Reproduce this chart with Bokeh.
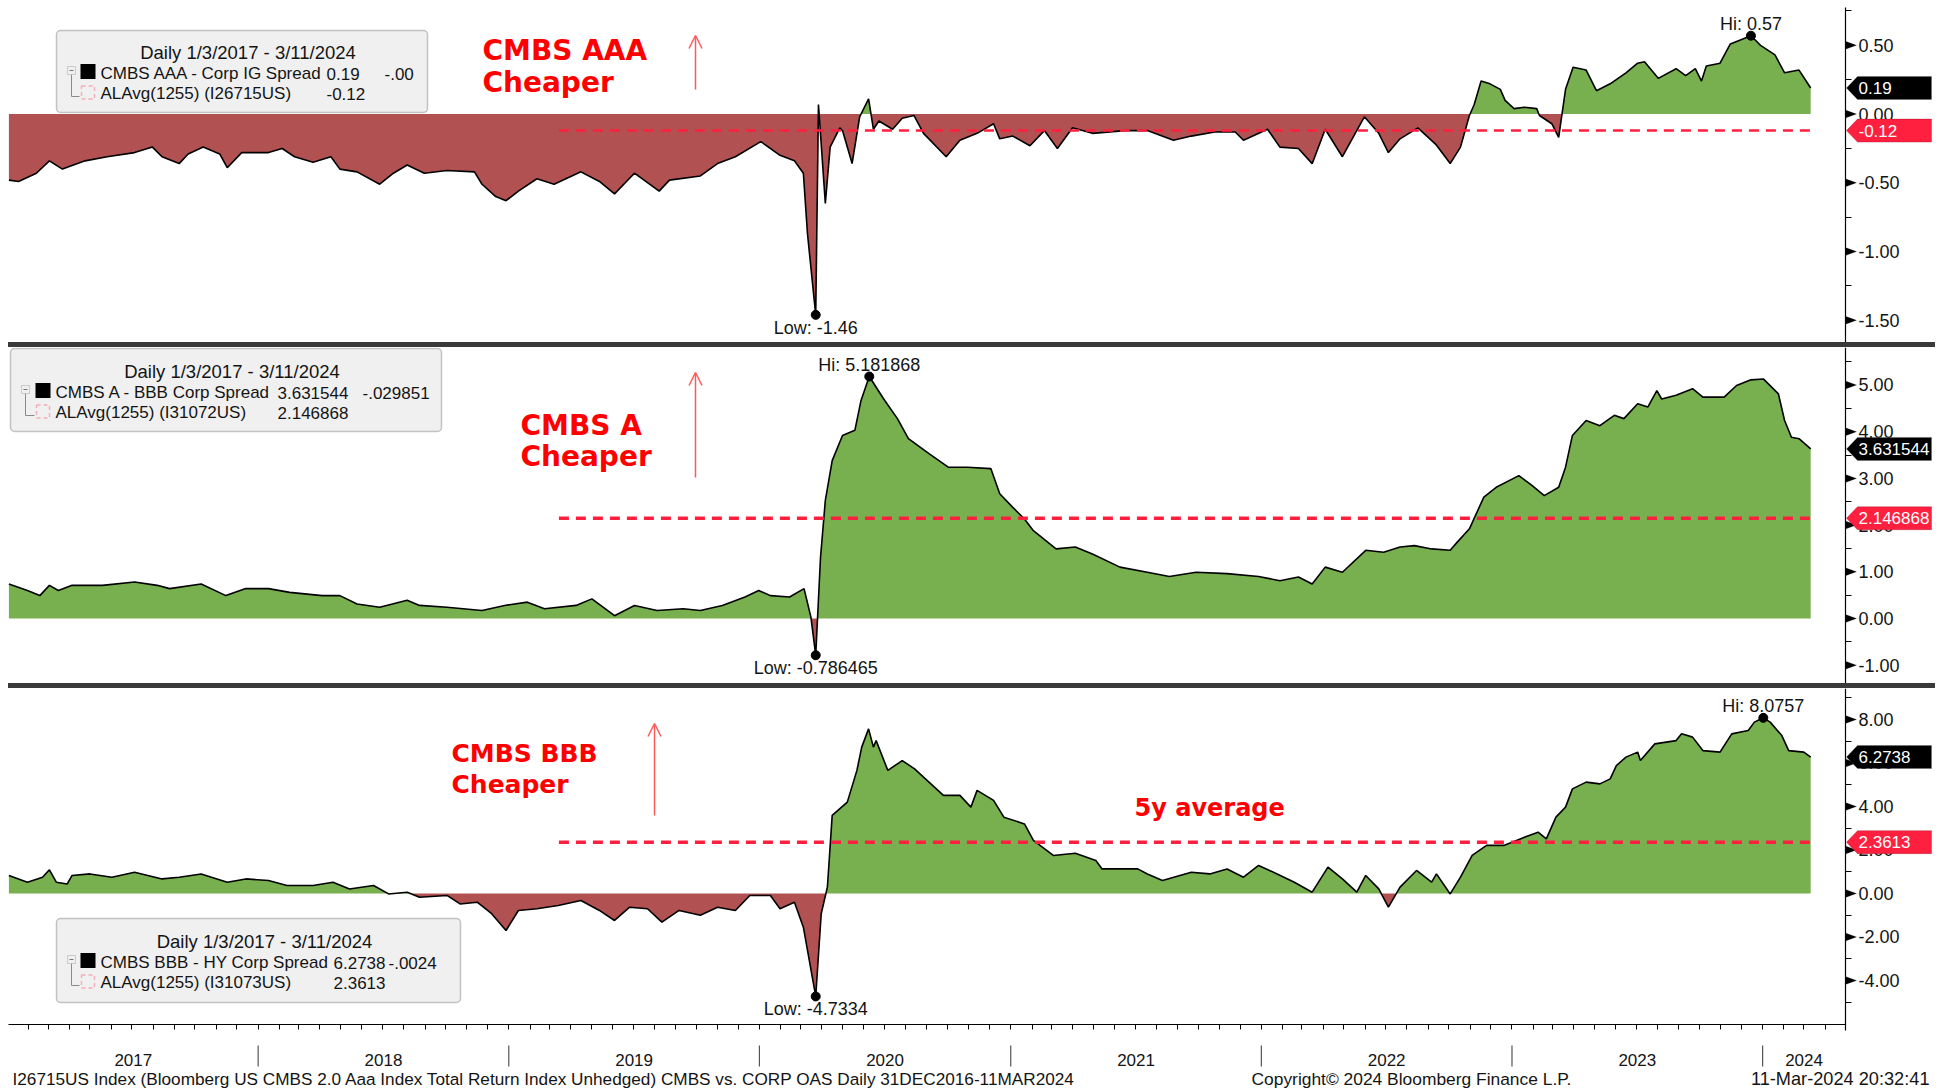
import numpy as np
import pandas as pd
from bokeh.plotting import figure
from bokeh.models import (Range1d, FixedTicker, NumeralTickFormatter, Label, BoxAnnotation,
                          PolyAnnotation, Arrow, OpenHead, Div, LinearAxis, DatetimeAxis,
                          DatetimeTickFormatter)
from bokeh.layouts import column
from bokeh.embed import file_html
from bokeh.resources import INLINE

# ---------------- data ----------------
aaa_dates = [
    "2017-01-03","2017-01-17","2017-02-12","2017-03-03","2017-03-22","2017-04-24","2017-05-26","2017-07-05","2017-07-31","2017-08-14",
    "2017-09-08","2017-09-21","2017-10-13","2017-11-06","2017-11-17","2017-12-08","2018-01-16","2018-02-05","2018-02-23","2018-03-22",
    "2018-04-17","2018-04-30","2018-05-25","2018-06-27","2018-07-17","2018-08-06","2018-08-31","2018-10-03","2018-11-12","2018-11-23",
    "2018-12-13","2018-12-28","2019-01-15","2019-02-11","2019-03-08","2019-04-16","2019-05-13","2019-06-04","2019-07-03","2019-08-08",
    "2019-08-23","2019-10-07","2019-11-01","2019-11-27","2020-01-03","2020-01-31","2020-02-21","2020-03-05","2020-03-11","2020-03-23",
    "2020-03-27","2020-04-06","2020-04-13","2020-04-27","2020-05-01","2020-05-15","2020-05-26","2020-06-08","2020-06-15","2020-06-23",
    "2020-07-13","2020-07-27","2020-08-13","2020-08-27","2020-09-29","2020-10-19","2020-11-13","2020-12-07","2020-12-16","2021-01-04",
    "2021-01-29","2021-02-19","2021-03-10","2021-04-01","2021-04-30","2021-06-16","2021-07-19","2021-08-26","2021-09-21","2021-10-25",
    "2021-11-24","2021-12-06","2022-01-10","2022-01-28","2022-02-24","2022-03-16","2022-04-04","2022-04-29","2022-05-31","2022-06-21",
    "2022-07-05","2022-07-22","2022-08-17","2022-09-12","2022-10-03","2022-10-18","2022-10-31","2022-11-07","2022-11-17","2022-11-30",
    "2022-12-15","2022-12-22","2023-01-04","2023-01-19","2023-02-06","2023-02-10","2023-02-28","2023-03-10","2023-03-20","2023-03-31",
    "2023-04-19","2023-05-04","2023-05-24","2023-06-16","2023-07-03","2023-07-13","2023-08-02","2023-08-28","2023-09-11","2023-09-25",
    "2023-10-04","2023-10-11","2023-10-31","2023-11-15","2023-12-05","2023-12-15","2023-12-29","2024-01-19","2024-02-02","2024-02-23","2024-03-11"]
aaa_values = [
    -0.48,-0.49,-0.43,-0.34,-0.40,-0.34,-0.31,-0.28,-0.24,-0.31,
    -0.36,-0.29,-0.24,-0.29,-0.39,-0.28,-0.28,-0.25,-0.31,-0.35,
    -0.31,-0.40,-0.42,-0.51,-0.43,-0.37,-0.43,-0.41,-0.42,-0.51,
    -0.60,-0.63,-0.56,-0.47,-0.51,-0.42,-0.49,-0.58,-0.43,-0.56,
    -0.48,-0.45,-0.36,-0.31,-0.20,-0.30,-0.34,-0.43,-0.87,-1.46,
    0.07,-0.65,-0.24,-0.10,-0.12,-0.36,-0.02,0.11,-0.11,-0.05,
    -0.11,-0.03,-0.01,-0.14,-0.31,-0.19,-0.14,-0.07,-0.18,-0.16,
    -0.23,-0.12,-0.25,-0.10,-0.14,-0.12,-0.12,-0.19,-0.16,-0.13,
    -0.13,-0.19,-0.11,-0.24,-0.25,-0.36,-0.11,-0.31,-0.02,-0.14,
    -0.28,-0.18,-0.10,-0.22,-0.36,-0.24,-0.01,0.07,0.24,0.22,
    0.18,0.10,0.04,0.05,0.04,-0.01,-0.07,-0.17,0.18,0.34,
    0.32,0.17,0.22,0.30,0.37,0.38,0.26,0.33,0.28,0.33,
    0.24,0.35,0.37,0.51,0.55,0.57,0.50,0.43,0.30,0.32,0.19]

a_dates = [
    "2017-01-03","2017-01-30","2017-02-17","2017-03-03","2017-03-16","2017-04-05","2017-05-19","2017-07-05","2017-08-07","2017-08-25",
    "2017-10-10","2017-11-15","2017-12-14","2018-01-16","2018-02-16","2018-04-04","2018-04-30","2018-05-25","2018-06-27","2018-08-06",
    "2018-08-24","2018-10-03","2018-11-23","2018-12-26","2019-01-28","2019-02-22","2019-04-09","2019-05-02","2019-06-04","2019-07-03",
    "2019-08-05","2019-09-12","2019-10-07","2019-11-08","2019-12-11","2019-12-31","2020-01-17","2020-02-14","2020-03-06","2020-03-16",
    "2020-03-23","2020-03-30","2020-04-06","2020-04-16","2020-05-01","2020-05-19","2020-05-28","2020-06-09","2020-06-30","2020-07-20",
    "2020-08-05","2020-09-04","2020-10-02","2020-10-30","2020-12-03","2020-12-16","2021-01-04","2021-01-21","2021-02-03","2021-03-08",
    "2021-04-05","2021-04-30","2021-06-09","2021-07-19","2021-08-20","2021-09-28","2021-11-12","2021-12-28","2022-01-28","2022-02-24",
    "2022-03-16","2022-04-04","2022-04-29","2022-06-02","2022-06-28","2022-07-22","2022-08-12","2022-09-06","2022-10-03","2022-10-13",
    "2022-10-31","2022-11-21","2022-12-09","2023-01-11","2023-01-30","2023-02-17","2023-03-10","2023-03-20","2023-03-30","2023-04-19",
    "2023-05-09","2023-05-30","2023-06-13","2023-07-03","2023-07-18","2023-07-31","2023-08-07","2023-08-28","2023-09-21","2023-10-06",
    "2023-11-06","2023-11-24","2023-12-15","2024-01-02","2024-01-24","2024-02-02","2024-02-12","2024-02-23","2024-03-11"]
a_values = [
    0.74,0.60,0.49,0.71,0.60,0.71,0.71,0.78,0.71,0.64,
    0.74,0.49,0.64,0.64,0.56,0.49,0.49,0.31,0.24,0.39,
    0.28,0.24,0.17,0.28,0.35,0.21,0.28,0.42,0.06,0.28,
    0.17,0.21,0.17,0.28,0.46,0.60,0.49,0.46,0.64,0.03,
    -0.786465,1.31,2.53,3.38,3.92,4.03,4.67,5.181868,4.70,4.28,
    3.85,3.53,3.24,3.24,3.21,2.67,2.38,2.13,1.88,1.49,
    1.53,1.38,1.10,0.99,0.90,0.99,0.96,0.90,0.81,0.89,
    0.74,1.10,0.99,1.46,1.42,1.53,1.56,1.49,1.46,1.63,
    1.92,2.60,2.81,3.06,2.85,2.63,2.81,3.24,3.92,4.24,
    4.13,4.35,4.28,4.60,4.53,4.88,4.70,4.78,4.92,4.74,
    4.74,4.99,5.11,5.13,4.81,4.24,3.88,3.85,3.631544]

bbb_dates = [
    "2017-01-03","2017-01-30","2017-02-21","2017-03-03","2017-03-13","2017-03-29","2017-04-05","2017-05-01","2017-06-02","2017-07-05",
    "2017-08-14","2017-09-08","2017-10-10","2017-11-17","2017-12-14","2018-01-16","2018-02-12","2018-03-22","2018-04-20","2018-05-14",
    "2018-06-18","2018-07-10","2018-08-06","2018-08-24","2018-10-03","2018-10-22","2018-11-16","2018-12-07","2018-12-28","2019-01-15",
    "2019-02-11","2019-03-14","2019-04-16","2019-05-13","2019-06-04","2019-06-26","2019-07-22","2019-08-12","2019-09-06","2019-10-07",
    "2019-11-01","2019-11-27","2019-12-18","2020-01-17","2020-01-31","2020-02-21","2020-03-05","2020-03-23","2020-03-31","2020-04-09",
    "2020-04-16","2020-05-08","2020-05-22","2020-05-29","2020-06-08","2020-06-15","2020-06-19","2020-07-06","2020-07-27","2020-08-14",
    "2020-08-27","2020-09-25","2020-10-19","2020-11-04","2020-11-13","2020-12-07","2020-12-22","2021-01-21","2021-02-03","2021-03-04",
    "2021-04-05","2021-05-05","2021-05-14","2021-07-05","2021-07-19","2021-08-10","2021-09-21","2021-10-18","2021-11-12","2021-12-06",
    "2021-12-28","2022-01-24","2022-02-18","2022-03-16","2022-04-08","2022-04-29","2022-05-20","2022-06-02","2022-06-21","2022-07-05",
    "2022-07-22","2022-08-15","2022-09-06","2022-09-13","2022-10-03","2022-10-18","2022-11-04","2022-11-25","2022-12-20","2023-01-13",
    "2023-02-08","2023-02-20","2023-03-06","2023-03-20","2023-03-30","2023-04-19","2023-05-09","2023-05-24","2023-06-02","2023-06-16",
    "2023-07-03","2023-07-07","2023-07-28","2023-08-28","2023-09-05","2023-09-21","2023-10-06","2023-10-31","2023-11-17","2023-12-11",
    "2023-12-20","2024-01-02","2024-01-12","2024-01-29","2024-02-08","2024-03-01","2024-03-11"]
bbb_values = [
    0.83,0.52,0.75,1.09,0.52,0.44,0.83,0.90,0.75,0.98,
    0.67,0.75,0.90,0.52,0.67,0.60,0.37,0.37,0.52,0.21,
    0.37,-0.02,0.06,-0.17,-0.09,-0.48,-0.40,-0.93,-1.70,-0.78,
    -0.70,-0.55,-0.32,-0.78,-1.24,-0.63,-0.70,-1.32,-0.78,-1.00,
    -0.63,-0.78,-0.09,-0.09,-0.70,-0.40,-1.55,-4.7334,-0.93,0.29,
    3.59,4.20,5.66,6.73,7.57,6.73,7.03,5.66,6.11,5.73,
    5.35,4.51,4.51,3.97,4.74,4.28,3.51,3.20,2.44,1.75,
    1.85,1.52,1.13,1.13,0.90,0.60,0.98,0.90,1.13,0.75,
    1.29,0.90,0.52,0.06,1.21,0.67,0.06,0.83,0.21,-0.63,
    0.29,1.06,0.52,0.90,-0.02,0.75,1.75,2.21,2.21,2.51,
    2.82,2.51,3.51,3.97,4.81,5.12,5.04,5.27,5.88,6.27,
    6.50,6.11,6.88,7.03,7.34,7.19,6.57,6.50,7.34,7.49,
    7.88,8.0757,7.88,7.26,6.57,6.50,6.2738]

series_dates = [aaa_dates, a_dates, bbb_dates]
series_values = [aaa_values, a_values, bbb_values]
series_names = ["CMBS AAA - Corp IG Spread", "CMBS A - BBB Corp Spread", "CMBS BBB - HY Corp Spread"]
avg_names = ["ALAvg(1255) (I26715US)", "ALAvg(1255) (I31072US)", "ALAvg(1255) (I31073US)"]
last_labels = ["0.19", "3.631544", "6.2738"]
change_labels = ["-.00", "-.029851", "-.0024"]
avg_values = [-0.12, 2.146868, 2.3613]
avg_labels = ["-0.12", "2.146868", "2.3613"]
hi_labels = ["0.57", "5.181868", "8.0757"]
low_labels = ["-1.46", "-0.786465", "-4.7334"]
avg_start = "2019-03-15"
legend_title = "Daily 1/3/2017 - 3/11/2024"
cheaper_titles = ["CMBS AAA", "CMBS A", "CMBS BBB"]
cheaper_word = "Cheaper"
avg_note = "5y average"
years = [2017, 2018, 2019, 2020, 2021, 2022, 2023, 2024]
major_ticks = [[-1.5, -1.0, -0.5, 0.0, 0.5], [-1, 0, 1, 2, 3, 4, 5], [-4, -2, 0, 2, 4, 6, 8]]
minor_ticks = [[-1.25, -0.75, -0.25, 0.25, 0.75], [-0.5, 0.5, 1.5, 2.5, 3.5, 4.5, 5.5], [-5, -3, -1, 1, 3, 5, 7, 9]]
footer_left = "I26715US Index (Bloomberg US CMBS 2.0 Aaa Index Total Return Index Unhedged) CMBS vs. CORP OAS  Daily 31DEC2016-11MAR2024"
footer_mid = "Copyright\u00a9 2024 Bloomberg Finance L.P."
footer_right = "11-Mar-2024 20:32:41"

# ---------------- styling / layout ----------------
GREEN = "#78b04f"
RED_FILL = "#b15151"
AVG_RED = "#ff1f3f"
TXT_RED = "#ff0000"
ARROW_RED = "#ff5a5a"
FONT = "Liberation Sans"
BOLD_FONT = "DejaVu Sans"
TXT = "#141414"


def ms(d):
    return (pd.Timestamp(d) - pd.Timestamp("1970-01-01")) / pd.Timedelta(milliseconds=1)


# page-pixel -> date: the plotting frame of the reference runs from px 8 to px 1845
D0 = ms("2017-01-02 10:00")
D1 = ms("2024-04-30 17:00")
FIG_W = 1935


def xpx(px):
    return D0 + (px - 8) * (D1 - D0) / (1845 - 8)


PANELS = [dict(top=0, h=342, lo=-1.661, hi=0.826),
          dict(top=347, h=336, lo=-1.392, hi=5.803),
          dict(top=688, h=400, lo=-8.966, hi=9.425)]


def ypx(k, py):
    P = PANELS[k]
    return P["hi"] - (py - P["top"]) * (P["hi"] - P["lo"]) / P["h"]


def dpx(k, n):
    P = PANELS[k]
    return n * (P["hi"] - P["lo"]) / P["h"]


LEG = [dict(l=56, t=30, r=427, b=112, ty=52, r2=73, r3=93, ex=71, sq=80, tx=100, vx=326, cx=384),
       dict(l=10, t=348, r=441, b=431, ty=371, r2=392, r3=412, ex=25, sq=35, tx=55, vx=277, cx=362),
       dict(l=56, t=918, r=460, b=1002, ty=941, r2=962, r3=982, ex=71, sq=80, tx=100, vx=333, cx=388)]
CHEAP = [dict(x=482, y1=50, y2=82, size="28px"),
         dict(x=520, y1=425, y2=456, size="28px"),
         dict(x=451, y1=753, y2=784, size="25px")]
ARROWS = [(695, 89, 35), (695, 477, 372), (654, 815, 723)]
AVG_W = [2.5, 3.5, 3.5]
AXIS_SPAN = [(342, 7), (683, 347), (1030, 688)]


def split_fill(xs, vs):
    X, Y = [xs[0]], [vs[0]]
    for i in range(1, len(xs)):
        v0, v1 = vs[i - 1], vs[i]
        if v0 * v1 < 0:
            X.append(xs[i - 1] + (xs[i] - xs[i - 1]) * v0 / (v0 - v1))
            Y.append(0.0)
        X.append(xs[i])
        Y.append(v1)
    Y = np.array(Y)
    return np.array(X), np.maximum(Y, 0), np.minimum(Y, 0)


def lab(p, x, y, text, size="17px", align="left", baseline="middle", color=TXT,
        font=FONT, style="normal"):
    p.add_layout(Label(x=x, y=y, text=text, text_font=font, text_font_size=size,
                       text_align=align, text_baseline=baseline, text_color=color,
                       text_font_style=style))


def box(p, k, l, t, r, b, **kw):
    p.add_layout(BoxAnnotation(left=xpx(l), right=xpx(r), top=ypx(k, t), bottom=ypx(k, b), **kw))


month_ms = [ms(d) for d in pd.date_range("2017-02-01", "2024-04-01", freq="MS")]
year_centers = [(max(ms(f"{y}-01-01"), D0) + min(ms(f"{y + 1}-01-01"), D1)) / 2 for y in years]
jan_ms = [ms(f"{y}-01-01") for y in years[1:]]

figs = []
for k in range(3):
    P = PANELS[k]
    last = (k == 2)
    p = figure(width=FIG_W, height=P["h"], x_axis_type="datetime",
               x_range=Range1d(xpx(0), xpx(FIG_W)), y_range=Range1d(P["lo"], P["hi"]),
               x_axis_location=None, y_axis_location=None,
               output_backend="svg", toolbar_location=None, min_border=0)
    p.grid.visible = False
    p.outline_line_color = None
    p.background_fill_color = "white"
    p.border_fill_color = "white"

    b0, b1 = AXIS_SPAN[k]
    ax = LinearAxis(fixed_location=xpx(1845), bounds=(ypx(k, b0), ypx(k, b1)),
                    ticker=FixedTicker(ticks=major_ticks[k], minor_ticks=minor_ticks[k]),
                    formatter=NumeralTickFormatter(format="0.00"))
    ax.axis_line_color = "black"
    ax.axis_line_width = 1.2
    ax.major_tick_line_color = None
    ax.major_tick_out = 10
    ax.major_tick_in = 0
    ax.minor_tick_line_color = "black"
    ax.minor_tick_out = 6
    ax.minor_tick_in = 0
    ax.major_label_standoff = 3
    ax.major_label_text_font = FONT
    ax.major_label_text_font_size = "18px"
    ax.major_label_text_color = TXT
    p.add_layout(ax, "right")

    if last:
        fmt = "%Y"
        xa = DatetimeAxis(fixed_location=ypx(k, 1024), bounds=(xpx(8), xpx(1845)),
                          ticker=FixedTicker(ticks=year_centers, minor_ticks=month_ms),
                          formatter=DatetimeTickFormatter(years=fmt, months=fmt, days=fmt, hours=fmt,
                                                          hourmin=fmt, minutes=fmt, minsec=fmt,
                                                          seconds=fmt, milliseconds=fmt, microseconds=fmt))
        xa.axis_line_color = "black"
        xa.axis_line_width = 1.2
        xa.major_tick_line_color = None
        xa.major_tick_out = 0
        xa.major_tick_in = 0
        xa.minor_tick_line_color = "black"
        xa.minor_tick_out = 5
        xa.minor_tick_in = 0
        xa.major_label_standoff = 24
        xa.major_label_text_font = FONT
        xa.major_label_text_font_size = "17px"
        xa.major_label_text_color = TXT
        p.add_layout(xa, "below")
        # year separators and footer
        p.segment(x0=jan_ms, y0=ypx(k, 1045), x1=jan_ms, y1=ypx(k, 1066), line_color="#555555", line_width=1.2)
        lab(p, xpx(12), ypx(k, 1078), footer_left, size="17.2px")
        lab(p, xpx(1251), ypx(k, 1078), footer_mid, size="17.4px")
        lab(p, xpx(1929), ypx(k, 1078), footer_right, size="18.2px", align="right")

    xs = np.array([ms(d) for d in series_dates[k]])
    vs = np.array(series_values[k], dtype=float)
    fx, pos, neg = split_fill(xs, vs)
    p.varea(x=fx, y1=0, y2=pos, fill_color=GREEN)
    p.varea(x=fx, y1=neg, y2=0, fill_color=RED_FILL)
    p.line(xs, vs, line_color="black", line_width=1.6)

    # 5y average
    p.line([ms(avg_start), xs[-1]], [avg_values[k], avg_values[k]], line_color=AVG_RED,
           line_width=AVG_W[k], line_dash="10 7")

    # hi / low
    hi_i, lo_i = int(np.argmax(vs)), int(np.argmin(vs))
    p.scatter([xs[hi_i], xs[lo_i]], [vs[hi_i], vs[lo_i]], size=9, color="black")
    lab(p, xs[hi_i], vs[hi_i] + dpx(k, 2), "Hi: " + hi_labels[k], size="18px", align="center", baseline="bottom")
    lab(p, xs[lo_i], vs[lo_i] - dpx(k, 3), "Low: " + low_labels[k], size="18px", align="center", baseline="top")

    # "Cheaper" annotation
    C = CHEAP[k]
    lab(p, xpx(C["x"]), ypx(k, C["y1"]), cheaper_titles[k], size=C["size"], baseline="alphabetic",
        color=TXT_RED, font=BOLD_FONT, style="bold")
    lab(p, xpx(C["x"]), ypx(k, C["y2"]), cheaper_word, size=C["size"], baseline="alphabetic",
        color=TXT_RED, font=BOLD_FONT, style="bold")
    axx, ay0, ay1 = ARROWS[k]
    p.add_layout(Arrow(end=OpenHead(size=13, line_color=ARROW_RED, line_width=1.5),
                       x_start=xpx(axx), y_start=ypx(k, ay0), x_end=xpx(axx), y_end=ypx(k, ay1),
                       line_color=ARROW_RED, line_width=1.5))
    if last:
        lab(p, xpx(1134), ypx(k, 807), avg_note, size="24px", baseline="alphabetic",
            color=TXT_RED, font=BOLD_FONT, style="bold")

    # legend box
    L = LEG[k]
    box(p, k, L["l"], L["t"], L["r"], L["b"], fill_color="#f0f0f0", fill_alpha=1,
        line_color="#4a4a4a", line_width=1.5, border_radius=4)
    lab(p, xpx((L["l"] + L["r"]) / 2 + 6), ypx(k, L["ty"]), legend_title, size="18.5px", align="center")
    ex, sq, r2, r3 = L["ex"], L["sq"], L["r2"], L["r3"]
    box(p, k, ex - 0.5, r2 + 1, ex + 0.5, r3 + 3, fill_color="#8a8a8a", fill_alpha=1, line_color=None)
    box(p, k, ex, r3 + 2.5, sq - 1, r3 + 3.5, fill_color="#8a8a8a", fill_alpha=1, line_color=None)
    box(p, k, ex - 4, r2 - 7, ex + 4, r2 + 1, fill_color="#f0f0f0", fill_alpha=1, line_color="#777777", line_width=1)
    box(p, k, ex - 2, r2 - 3.5, ex + 2, r2 - 2.5, fill_color="#777777", fill_alpha=1, line_color=None)
    box(p, k, sq, r2 - 9.5, sq + 15, r2 + 5.5, fill_color="black", fill_alpha=1, line_color=None)
    box(p, k, sq + 1, r3 - 7.5, sq + 14, r3 + 5.5, fill_alpha=0, line_color=AVG_RED, line_width=1.5, line_dash="4 3")
    lab(p, xpx(L["tx"]), ypx(k, r2), series_names[k])
    lab(p, xpx(L["vx"]), ypx(k, r2), last_labels[k])
    lab(p, xpx(L["cx"]), ypx(k, r2), change_labels[k])
    lab(p, xpx(L["tx"]), ypx(k, r3), avg_names[k])
    lab(p, xpx(L["vx"]), ypx(k, r3), avg_labels[k])

    # axis tick triangles
    for t in major_ticks[k]:
        p.add_layout(PolyAnnotation(xs=[xpx(1845), xpx(1856), xpx(1845)],
                                    ys=[t + dpx(k, 4), t, t - dpx(k, 4)],
                                    fill_color="black", fill_alpha=1, line_color="black", line_width=0.5))

    # value tags on the axis
    def tag(v, text, color, edge):
        h = dpx(k, 11.5)
        p.add_layout(PolyAnnotation(xs=[xpx(1846), xpx(1857), xpx(1931), xpx(1931), xpx(1857)],
                                    ys=[v, v + h, v + h, v - h, v - h], fill_color=color, fill_alpha=1,
                                    line_color=edge, line_width=1))
        lab(p, xpx(1858), v, text, size="17px", color="white")

    tag(avg_values[k], avg_labels[k], AVG_RED, "#7a0a1a")
    tag(vs[-1], last_labels[k], "black", "#5a5a5a")
    figs.append(p)


def sep():
    return Div(text="", width=FIG_W - 8, height=5, margin=(0, 0, 0, 8),
               styles={"background-color": "#3a3a3a"})


layout = column(figs[0], sep(), figs[1], sep(), figs[2], spacing=0)
open("out.html", "w").write(file_html(layout, INLINE, "CMBS vs Corp OAS"))
